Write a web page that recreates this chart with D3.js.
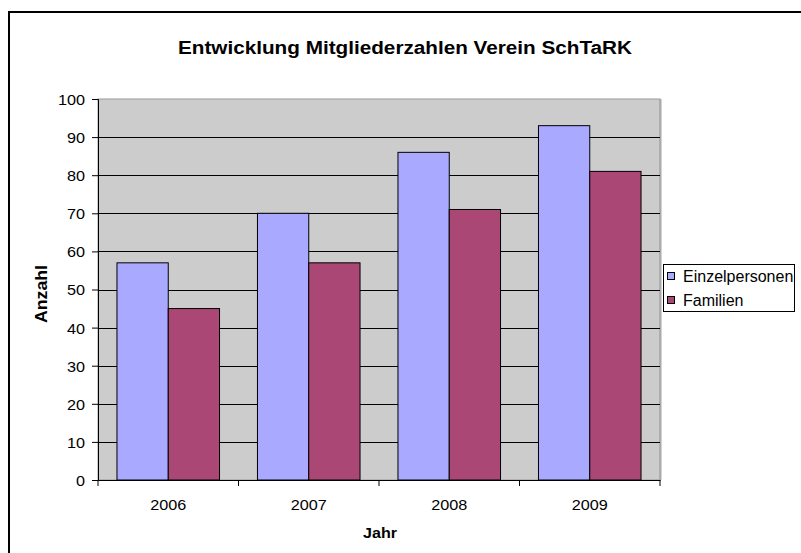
<!DOCTYPE html>
<html><head><meta charset="utf-8">
<script src="https://cdn.jsdelivr.net/npm/d3@7"></script>
<style>body{margin:0;background:#fff}svg{display:block}text{font-family:"Liberation Sans",Arial,sans-serif}</style>
</head><body>
<script>
const years = ["2006","2007","2008","2009"];
const seriesNames = ["Einzelpersonen","Familien"];
const einzelpersonen = [57,70,86,93];
const familien = [45,57,71,81];
const yTicks = [0,10,20,30,40,50,60,70,80,90,100];
const colors = ["#A9A9FF","#AA4774"];

const W=801,H=553;
const svg=d3.select("body").append("svg").attr("width",W).attr("height",H);
svg.append("rect").attr("x",9).attr("y",12).attr("width",900).attr("height",700).attr("fill","#fff").attr("stroke","#000").attr("stroke-width",2);

const L=98,R=660,T=99,B=480;
const x=d3.scaleBand().domain(years).range([L,R]).paddingInner(0).paddingOuter(0);
const xs=d3.scaleBand().domain(seriesNames).range([0,x.bandwidth()]).paddingInner(0).paddingOuter(0.37);
const y=d3.scaleLinear().domain([0,100]).range([B,T]);

svg.append("rect").attr("x",L).attr("y",T).attr("width",R-L).attr("height",B-T).attr("fill","#CCCCCC").attr("stroke","#999").attr("stroke-width",1);
svg.append("line").attr("x1",R+0.5).attr("x2",R+0.5).attr("y1",T).attr("y2",B).attr("stroke","#aaa").attr("stroke-width",2);
// grid
svg.append("g").selectAll("line").data(yTicks.filter(v=>v>0&&v<100)).join("line")
 .attr("x1",L).attr("x2",R).attr("y1",d=>Math.round(y(d))+0.5).attr("y2",d=>Math.round(y(d))+0.5).attr("stroke","#000").attr("stroke-width",1);

const data=years.map((yr,i)=>({yr,vals:[einzelpersonen[i],familien[i]]}));
const g=svg.append("g");
data.forEach(d=>{
  d.vals.forEach((v,j)=>{
    g.append("rect").attr("x",x(d.yr)+xs(seriesNames[j])).attr("y",y(v)).attr("width",xs.bandwidth()).attr("height",y(0)-y(v))
     .attr("fill",colors[j]).attr("stroke","#000").attr("stroke-width",1);
  });
});

function stretch(sel,f){sel.each(function(){const n=this.getComputedTextLength();d3.select(this).attr("textLength",n*f).attr("lengthAdjust","spacingAndGlyphs");});}

// y axis
const yAxis=d3.axisLeft(y).tickValues(yTicks).tickSize(6).tickPadding(7);
const ya=svg.append("g").attr("transform",`translate(${L},0)`).call(yAxis);
ya.attr("font-family",null);
ya.select(".domain").attr("stroke","#000");
ya.selectAll("text").attr("font-size",15).attr("fill","#000").attr("dy","0.36em");
stretch(ya.selectAll("text"),1.08);
// x axis
const xa=svg.append("g").attr("transform",`translate(0,${B})`).call(d3.axisBottom(x).tickSize(0).tickPadding(0));
xa.attr("font-family",null);
xa.select(".domain").attr("stroke","#000");
xa.selectAll("text").attr("font-size",15).attr("fill","#000").attr("dy",null).attr("y",30);
stretch(xa.selectAll("text"),1.08);
xa.selectAll("line.bound").data(d3.range(years.length+1)).join("line").attr("class","bound")
 .attr("x1",i=>L+i*x.bandwidth()).attr("x2",i=>L+i*x.bandwidth()).attr("y1",0).attr("y2",6).attr("stroke","#000");

svg.append("text").attr("x",405).attr("y",54).attr("text-anchor","middle").attr("font-size",18).attr("font-weight","bold")
 .attr("textLength",454).attr("lengthAdjust","spacingAndGlyphs").text("Entwicklung Mitgliederzahlen Verein SchTaRK");
svg.append("text").attr("x",380).attr("y",538).attr("text-anchor","middle").attr("font-size",15).attr("font-weight","bold")
 .attr("textLength",34).attr("lengthAdjust","spacingAndGlyphs").text("Jahr");
svg.append("text").attr("transform",`translate(47,294) rotate(-90)`).attr("text-anchor","middle").attr("font-size",16).attr("font-weight","bold")
 .attr("textLength",58).attr("lengthAdjust","spacingAndGlyphs").text("Anzahl");

// legend
const lg=svg.append("g");
lg.append("rect").attr("x",663.5).attr("y",264.5).attr("width",131).attr("height",47).attr("fill","#fff").attr("stroke","#000").attr("stroke-width",1);
seriesNames.forEach((n,i)=>{
  lg.append("rect").attr("x",667.5).attr("y",272.5+i*24).attr("width",7).attr("height",7).attr("fill",colors[i]).attr("stroke","#000");
  lg.append("text").attr("x",683).attr("y",282+i*24).attr("font-size",16).text(n);
});
</script>
</body></html>
